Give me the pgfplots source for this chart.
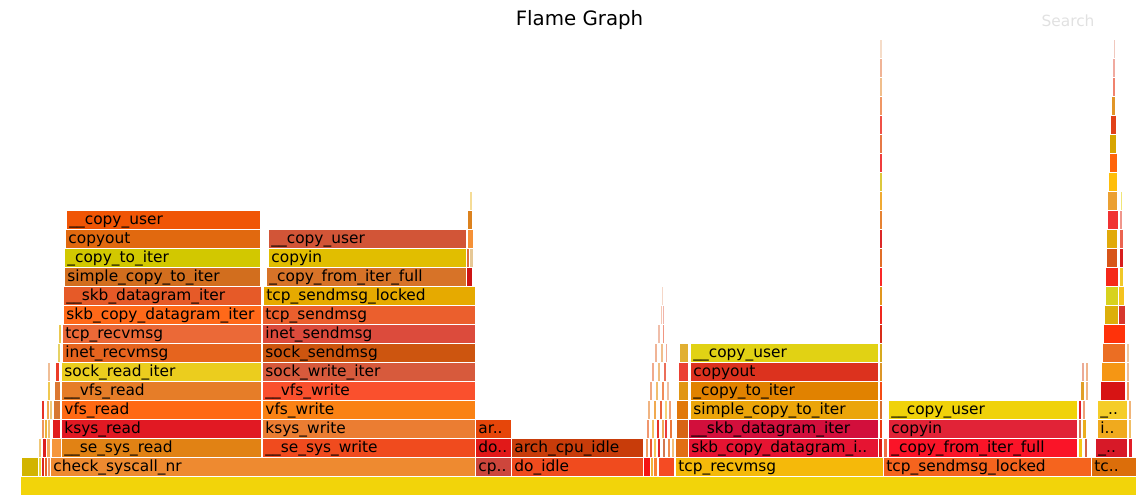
\documentclass[border=0pt]{standalone}
\usepackage{pgfplots}
\pgfplotsset{compat=1.18}
\usepackage{fontspec}
\setmainfont{DejaVu Sans}
\newcommand{\lbl}{\fontsize{7.7pt}{9pt}\selectfont}
% \fb{x0}{x1}{row}{R}{G}{B}{label}
\newcommand{\fb}[7]{%
  \pgfmathsetmacro{\ytop}{#3+1}%
  \addplot[fill={rgb,255:red,#4;green,#5;blue,#6}, draw=white, line width=0.45pt, line join=round]
    coordinates {(#1,#3) (#2,#3) (#2,\ytop) (#1,\ytop) (#1,#3)};%
  \node[anchor=base west, inner sep=0pt, xshift=1.5pt, yshift=2.7pt, font=\lbl] at (axis cs:#1,#3) {#7};%
}
\begin{document}
\begin{tikzpicture}
\begin{axis}[hide axis, scale only axis, width=571.5pt, height=247pt,
  anchor=south west, at={(0,0)},
  xmin=0, xmax=1143, ymin=0.1, ymax=26.1]
% row 0
\fb{20}{1136}{0}{242}{212}{10}{}
% row 1
\fb{21}{38}{1}{210}{180}{0}{}
\fb{38}{41}{1}{235}{215}{60}{}
\fb{41}{44}{1}{220}{40}{30}{}
\fb{44}{47}{1}{230}{100}{40}{}
\fb{47}{50}{1}{240}{150}{100}{}
\fb{50}{475}{1}{238}{138}{48}{check\_syscall\_nr}
\fb{475}{511}{1}{205}{70}{60}{cp..}
\fb{511}{643}{1}{240}{75}{30}{do\_idle}
\fb{643}{650}{1}{245}{20}{20}{}
\fb{650}{653}{1}{240}{180}{60}{}
\fb{653}{657}{1}{250}{130}{50}{}
\fb{658}{674}{1}{245}{75}{35}{}
\fb{675}{883}{1}{245}{185}{10}{tcp\_recvmsg}
\fb{883}{1091}{1}{245}{100}{30}{tcp\_sendmsg\_locked}
\fb{1091}{1136}{1}{220}{110}{10}{tc..}
% row 2
\fb{38}{41}{2}{240}{200}{120}{}
\fb{42}{46}{2}{220}{30}{30}{}
\fb{46}{50}{2}{245}{170}{90}{}
\fb{51}{61}{2}{245}{150}{60}{}
\fb{61}{261}{2}{225}{130}{20}{\_\_se\_sys\_read}
\fb{262}{475}{2}{240}{75}{30}{\_\_se\_sys\_write}
\fb{475}{511}{2}{225}{25}{25}{do..}
\fb{511}{643}{2}{200}{60}{10}{arch\_cpu\_idle}
\fb{645}{648}{2}{240}{160}{100}{}
\fb{649}{652}{2}{235}{90}{50}{}
\fb{653}{656}{2}{245}{200}{90}{}
\fb{657}{660}{2}{225}{40}{40}{}
\fb{662}{665}{2}{210}{120}{80}{}
\fb{667}{670}{2}{240}{140}{80}{}
\fb{671}{674}{2}{245}{190}{120}{}
\fb{675}{688}{2}{225}{110}{20}{}
\fb{688}{878}{2}{230}{20}{50}{skb\_copy\_datagram\_i..}
\fb{878}{882}{2}{220}{30}{20}{}
\fb{883}{887}{2}{240}{110}{70}{}
\fb{888}{1077}{2}{250}{20}{40}{\_copy\_from\_iter\_full}
\fb{1078}{1082}{2}{245}{200}{20}{}
\fb{1084}{1087}{2}{215}{100}{70}{}
\fb{1095}{1127}{2}{215}{25}{40}{\_..}
\fb{1128}{1132}{2}{225}{30}{40}{}
% row 3
\fb{41}{44}{3}{240}{150}{90}{}
\fb{44}{47}{3}{235}{180}{60}{}
\fb{47}{50}{3}{240}{190}{110}{}
\fb{52}{60}{3}{225}{30}{30}{}
\fb{61}{261}{3}{225}{25}{35}{ksys\_read}
\fb{262}{475}{3}{235}{125}{50}{ksys\_write}
\fb{475}{511}{3}{230}{70}{10}{ar..}
\fb{646}{649}{3}{240}{150}{110}{}
\fb{651}{654}{3}{245}{190}{100}{}
\fb{656}{659}{3}{230}{50}{40}{}
\fb{661}{664}{3}{240}{170}{90}{}
\fb{664}{667}{3}{235}{60}{60}{}
\fb{669}{672}{3}{235}{120}{60}{}
\fb{676}{688}{3}{215}{100}{20}{}
\fb{688}{878}{3}{210}{15}{60}{\_\_skb\_datagram\_iter}
\fb{879}{882}{3}{235}{60}{20}{}
\fb{888}{1077}{3}{225}{35}{55}{copyin}
\fb{1078}{1081}{3}{210}{120}{80}{}
\fb{1082}{1086}{3}{235}{175}{30}{}
\fb{1097}{1127}{3}{240}{170}{30}{i..}
\fb{1128}{1131}{3}{240}{190}{100}{}
% row 4
\fb{41}{44}{4}{230}{50}{40}{}
\fb{46}{49}{4}{240}{170}{80}{}
\fb{49}{52}{4}{240}{200}{120}{}
\fb{53}{60}{4}{215}{120}{50}{}
\fb{61}{261}{4}{255}{105}{20}{vfs\_read}
\fb{262}{475}{4}{250}{130}{20}{vfs\_write}
\fb{647}{650}{4}{240}{180}{130}{}
\fb{653}{656}{4}{240}{170}{80}{}
\fb{659}{662}{4}{235}{100}{60}{}
\fb{664}{667}{4}{245}{210}{120}{}
\fb{668}{671}{4}{240}{160}{120}{}
\fb{676}{688}{4}{225}{120}{10}{}
\fb{690}{878}{4}{235}{165}{10}{simple\_copy\_to\_iter}
\fb{879}{882}{4}{215}{110}{50}{}
\fb{888}{1077}{4}{240}{210}{10}{\_\_copy\_user}
\fb{1078}{1081}{4}{225}{30}{40}{}
\fb{1082}{1085}{4}{240}{160}{120}{}
\fb{1097}{1127}{4}{245}{205}{40}{\_..}
\fb{1128}{1131}{4}{240}{180}{120}{}
% row 5
\fb{47}{50}{5}{240}{200}{80}{}
\fb{54}{60}{5}{220}{120}{50}{}
\fb{61}{261}{5}{230}{125}{40}{\_\_vfs\_read}
\fb{262}{475}{5}{250}{80}{45}{\_\_vfs\_write}
\fb{649}{652}{5}{240}{170}{130}{}
\fb{655}{658}{5}{240}{190}{110}{}
\fb{661}{664}{5}{240}{140}{90}{}
\fb{666}{669}{5}{240}{190}{160}{}
\fb{678}{688}{5}{225}{150}{20}{}
\fb{690}{878}{5}{225}{130}{0}{\_copy\_to\_iter}
\fb{879}{882}{5}{245}{75}{20}{}
\fb{1080}{1084}{5}{225}{160}{40}{}
\fb{1085}{1088}{5}{240}{180}{130}{}
\fb{1100}{1125}{5}{215}{20}{20}{}
\fb{1126}{1129}{5}{240}{160}{100}{}
% row 6
\fb{47}{50}{6}{240}{190}{150}{}
\fb{55}{59}{6}{235}{60}{40}{}
\fb{61}{261}{6}{235}{205}{30}{sock\_read\_iter}
\fb{262}{475}{6}{215}{90}{60}{sock\_write\_iter}
\fb{651}{654}{6}{240}{170}{140}{}
\fb{657}{660}{6}{240}{190}{130}{}
\fb{663}{666}{6}{235}{110}{90}{}
\fb{678}{688}{6}{235}{65}{50}{}
\fb{690}{878}{6}{220}{50}{30}{copyout}
\fb{879}{882}{6}{220}{150}{40}{}
\fb{1081}{1084}{6}{235}{170}{150}{}
\fb{1085}{1088}{6}{240}{180}{140}{}
\fb{1101}{1125}{6}{245}{150}{20}{}
\fb{1126}{1129}{6}{240}{190}{150}{}
% row 7
\fb{57}{60}{7}{230}{210}{100}{}
\fb{62}{261}{7}{230}{100}{30}{inet\_recvmsg}
\fb{262}{475}{7}{205}{85}{15}{sock\_sendmsg}
\fb{654}{657}{7}{240}{180}{150}{}
\fb{660}{663}{7}{240}{190}{140}{}
\fb{665}{667}{7}{240}{170}{150}{}
\fb{679}{688}{7}{225}{175}{50}{}
\fb{690}{878}{7}{225}{210}{20}{\_\_copy\_user}
\fb{879}{882}{7}{215}{170}{30}{}
\fb{1102}{1125}{7}{235}{110}{35}{}
\fb{1126}{1129}{7}{240}{200}{160}{}
% row 8
\fb{58}{61}{8}{235}{200}{80}{}
\fb{62}{261}{8}{235}{105}{55}{tcp\_recvmsg}
\fb{262}{475}{8}{220}{75}{60}{inet\_sendmsg}
\fb{657}{660}{8}{240}{190}{170}{}
\fb{662}{664}{8}{240}{150}{130}{}
\fb{1103}{1125}{8}{255}{50}{10}{}
% row 9
\fb{63}{261}{9}{255}{105}{25}{skb\_copy\_datagram\_iter}
\fb{262}{475}{9}{235}{95}{45}{tcp\_sendmsg}
\fb{660}{662}{9}{245}{200}{180}{}
\fb{662}{664}{9}{240}{180}{170}{}
\fb{1104}{1118}{9}{220}{175}{10}{}
\fb{1118}{1125}{9}{215}{55}{45}{}
% row 10
\fb{63}{261}{10}{230}{90}{40}{\_\_skb\_datagram\_iter}
\fb{263}{475}{10}{230}{170}{0}{tcp\_sendmsg\_locked}
\fb{661}{663}{10}{245}{215}{200}{}
\fb{1105}{1118}{10}{215}{210}{30}{}
\fb{1118}{1124}{10}{245}{195}{30}{}
% row 11
\fb{64}{260}{11}{210}{110}{30}{simple\_copy\_to\_iter}
\fb{266}{466}{11}{215}{115}{40}{\_copy\_from\_iter\_full}
\fb{466}{472}{11}{205}{20}{20}{}
\fb{1105}{1118}{11}{245}{40}{25}{}
\fb{1119}{1123}{11}{240}{200}{40}{}
% row 12
\fb{64}{260}{12}{210}{200}{0}{\_copy\_to\_iter}
\fb{268}{466}{12}{225}{190}{0}{copyin}
\fb{466}{469}{12}{220}{110}{60}{}
\fb{469}{473}{12}{230}{200}{150}{}
\fb{1106}{1117}{12}{215}{85}{25}{}
\fb{1119}{1123}{12}{215}{30}{30}{}
% row 13
\fb{65}{260}{13}{225}{105}{15}{copyout}
\fb{268}{466}{13}{210}{85}{55}{\_\_copy\_user}
\fb{467}{473}{13}{245}{145}{55}{}
\fb{1106}{1117}{13}{225}{170}{10}{}
\fb{1119}{1123}{13}{235}{100}{80}{}
% row 14
\fb{66}{260}{14}{240}{85}{5}{\_\_copy\_user}
\fb{467}{472}{14}{220}{130}{30}{}
\fb{1107}{1118}{14}{240}{50}{50}{}
\fb{1119}{1122}{14}{240}{150}{140}{}
% higher rows
\fb{469}{472}{15}{245}{220}{150}{}
\fb{1107}{1117}{15}{235}{160}{50}{}
\fb{1120}{1122}{15}{240}{230}{120}{}
\fb{1108}{1117}{16}{255}{190}{10}{}
\fb{1109}{1117}{17}{255}{100}{10}{}
\fb{1109}{1116}{18}{215}{165}{0}{}
\fb{1110}{1116}{19}{225}{65}{25}{}
\fb{1111}{1115}{20}{225}{150}{40}{}
\fb{1112}{1115}{21}{240}{130}{110}{}
\fb{1112}{1115}{22}{240}{170}{160}{}
\fb{1113}{1115}{23}{240}{200}{190}{}
% tower at x=880
\fb{879}{882}{8}{215}{45}{25}{}
\fb{879}{882}{9}{240}{40}{30}{}
\fb{879}{882}{10}{225}{150}{30}{}
\fb{879}{882}{11}{250}{40}{40}{}
\fb{879}{882}{12}{225}{110}{40}{}
\fb{879}{882}{13}{220}{40}{40}{}
\fb{879}{882}{14}{230}{130}{50}{}
\fb{879}{882}{15}{240}{170}{50}{}
\fb{879}{882}{16}{220}{200}{60}{}
\fb{879}{882}{17}{240}{60}{60}{}
\fb{879}{882}{18}{230}{120}{70}{}
\fb{879}{882}{19}{240}{80}{70}{}
\fb{879}{882}{20}{240}{150}{100}{}
\fb{879}{882}{21}{240}{190}{140}{}
\fb{879}{882}{22}{240}{180}{150}{}
\fb{879}{882}{23}{245}{220}{200}{}
% title and search
\node[anchor=base, inner sep=0pt, font=\fontsize{9.9pt}{12pt}\selectfont] at (axis cs:579.5,24.74) {Flame Graph};
\node[anchor=base, inner sep=0pt, font=\lbl, text={rgb,255:red,225;green,225;blue,225}] at (axis cs:1068,24.7) {Search};
\end{axis}
\pgfresetboundingbox
\useasboundingbox (0,0) rectangle (571.5pt,247pt);
\end{tikzpicture}
\end{document}
